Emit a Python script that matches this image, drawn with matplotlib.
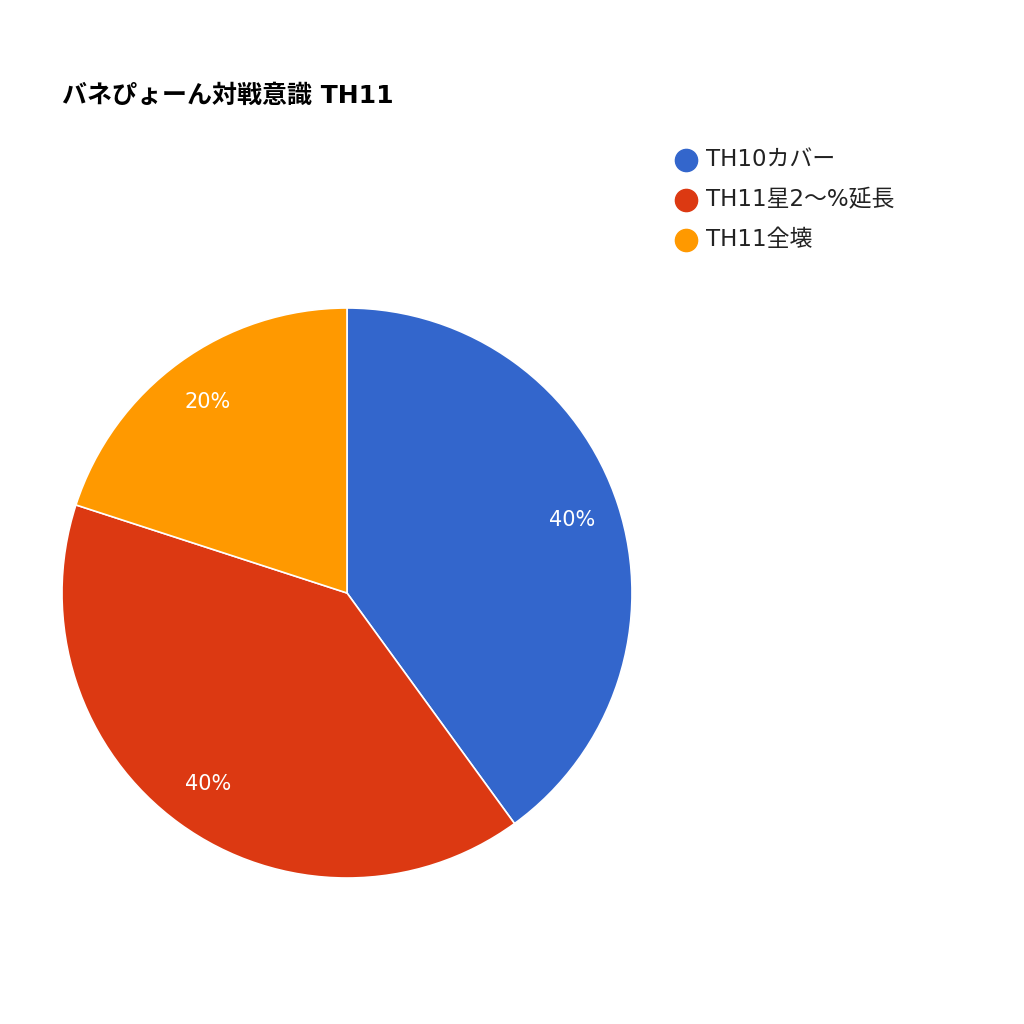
import matplotlib
matplotlib.use("Agg")
import matplotlib.pyplot as plt
from matplotlib.lines import Line2D

plt.rcParams['font.family'] = ['DejaVu Sans', 'Noto Sans CJK JP']

title = "バネぴょーん対戦意識 TH11"
categories = ["TH10カバー", "TH11星2〜%延長", "TH11全壊"]
values = [40, 40, 20]
colors = ["#3366CC", "#DC3912", "#FF9900"]

W = 1024
fig = plt.figure(figsize=(10.24, 10.24), dpi=100)
fig.patch.set_facecolor("white")

cx, cy, r = 347 / W, 1 - 593 / W, 285 / W
ax = fig.add_axes([cx - r, cy - r, 2 * r, 2 * r])
wedges, texts, autotexts = ax.pie(
    values, colors=colors, startangle=90, counterclock=False,
    autopct="%d%%", pctdistance=0.83, radius=1.0,
    wedgeprops=dict(edgecolor="white", linewidth=1.2),
    textprops=dict(color="white", fontsize=15))
ax.set_xlim(-1, 1)
ax.set_ylim(-1, 1)
ax.set_aspect("equal")
ax.axis("off")

fig.text(62 / W, 1 - 96 / W, title, fontsize=18, fontweight="bold",
         ha="left", va="center", color="black")

# legend (manual layout)
for i, (lab, c) in enumerate(zip(categories, colors)):
    y = 1 - (160 + 40 * i) / W
    fig.add_artist(Line2D([686 / W], [y], marker="o", linestyle="none",
                          markersize=16, markerfacecolor=c, markeredgecolor=c,
                          transform=fig.transFigure))
    fig.text(706 / W, y, lab, fontsize=16.5, ha="left", va="center", color="#222222")

fig.savefig("out.png", dpi=100, facecolor="white")
